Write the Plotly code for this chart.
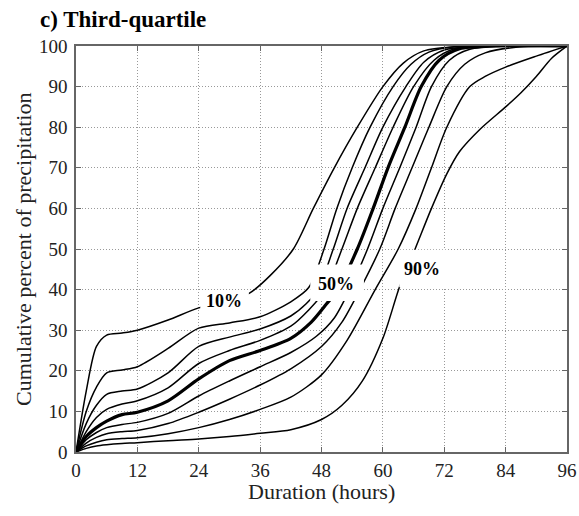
import plotly.graph_objects as go

# points: duration (hours) and cumulative percent
h10 = [0, 2, 4, 6, 9, 12, 18, 24, 30, 34, 38, 42.5, 46.4, 50.5, 55, 60, 64, 68, 74, 84, 96]
p10 = [0, 15, 26, 28.8, 29.3, 30, 32.5, 35.5, 37.2, 39.2, 43.5, 50, 60, 70, 80, 90, 95.8, 98.8, 99.8, 100, 100]

h20 = [0, 2, 4, 6, 9, 12, 18, 24, 30, 36, 42, 45.5, 48.5, 51, 54, 57.5, 62, 65.5, 69, 74, 84, 96]
p20 = [0, 10, 16, 19.5, 20.2, 21, 25.5, 30.5, 31.8, 33.3, 37, 40.5, 50, 60, 70, 80, 90, 95.5, 98.5, 99.8, 100, 100]

h30 = [0, 2, 4, 6, 9, 12, 18, 24, 30, 36, 42, 45, 47.3, 50.3, 53, 56.5, 60, 64.5, 68, 72, 78, 96]
p30 = [0, 7, 11.5, 14.2, 15, 15.5, 19.5, 26, 28.3, 30.3, 33.5, 36.5, 40, 50, 60, 70, 80, 90, 96, 99, 99.9, 100]

h40 = [0, 2, 4, 6, 9, 12, 18, 24, 30, 36, 42, 45.5, 48.8, 52, 55, 58.5, 62, 66, 70, 74, 80, 96]
p40 = [0, 5, 8.5, 10.5, 11.8, 12.6, 15.8, 21.8, 25, 27.5, 31, 35, 40, 50, 60, 70, 80, 90, 96.5, 99.3, 100, 100]

h50 = [0, 2, 4, 6, 9, 12, 18, 24, 30, 36, 42, 46, 49, 51.2, 55, 58.1, 61, 64.3, 67.5, 71, 75, 82, 96]
p50 = [0, 3.8, 6, 7.6, 9.2, 9.8, 12.6, 18, 22.5, 25, 28, 32, 36.5, 40, 50, 60, 70, 80, 90, 96.5, 99.3, 100, 100]

h60 = [0, 2, 4, 6, 9, 12, 18, 24, 30, 36, 42, 47, 50.5, 53.5, 57, 60, 63.3, 66.5, 69.5, 73, 77, 84, 96]
p60 = [0, 3, 4.8, 6, 6.8, 7.3, 9.5, 13.8, 17.5, 21, 24.5, 28.5, 33, 40, 50, 60, 70, 80, 90, 96.5, 99.2, 100, 100]

h70 = [0, 2, 4, 6, 9, 12, 18, 24, 30, 36, 42, 48, 52, 55.5, 59.4, 62.4, 65.7, 69, 72.5, 76, 80, 86, 96]
p70 = [0, 2.2, 3.6, 4.5, 5, 5.3, 7, 9.8, 13, 16.5, 20.5, 26, 32, 40, 50, 60, 70, 80, 90, 95.5, 98.3, 99.7, 100]

h80 = [0, 2, 4, 6, 9, 12, 18, 24, 30, 36, 42, 48, 53, 58.5, 63, 66.5, 69.5, 72.5, 77, 80, 84, 90, 96]
p80 = [0, 1.5, 2.4, 3, 3.3, 3.5, 4.5, 6, 8, 10.5, 13.5, 19, 27.5, 40, 50, 60, 70, 80, 90, 92.5, 94.8, 97.5, 100]

h90 = [0, 2, 4, 6, 9, 12, 18, 24, 30, 36, 42, 48, 52, 56, 60, 63.3, 66.3, 69.5, 72.5, 75, 79, 84, 87, 90, 93, 96]
p90 = [0, 0.9, 1.5, 1.8, 2.1, 2.3, 2.8, 3.2, 3.8, 4.6, 5.5, 8, 11.5, 17.5, 28, 40.8, 50, 60, 68.5, 74, 79.5, 85, 88.5, 92.5, 97, 100]

curves = [(h10, p10), (h20, p20), (h30, p30), (h40, p40), (h50, p50),
          (h60, p60), (h70, p70), (h80, p80), (h90, p90)]
names = ['10%', '20%', '30%', '40%', '50%', '60%', '70%', '80%', '90%']

# labelled curves: text, label centre, white box behind the label
label_text = ['10%', '50%', '90%']
label_x = [29.0, 50.9, 67.6]
label_y = [37.3, 41.5, 45.0]
box_x0 = [24.3, 45.8, 63.2]
box_x1 = [33.8, 56.3, 72.5]
box_y0 = [34.3, 37.2, 40.6]
box_y1 = [39.8, 46.2, 49.8]

serif = 'Liberation Serif, Times New Roman, serif'

fig = go.Figure()
for name, (hx, py) in zip(names, curves):
    fig.add_trace(go.Scatter(x=hx, y=py, mode='lines', name=name,
                             line=dict(color='black', width=3.2 if name == '50%' else 1.5,
                                       shape='spline', smoothing=0.8)))

for i in range(len(label_text)):
    fig.add_shape(type='rect', x0=box_x0[i], x1=box_x1[i], y0=box_y0[i], y1=box_y1[i],
                  fillcolor='white', line_width=0, layer='above')
    fig.add_annotation(x=label_x[i], y=label_y[i], text='<b>' + label_text[i] + '</b>',
                       showarrow=False, font=dict(family=serif, size=18, color='black'))

# axis titles placed by hand
fig.add_annotation(text='Duration (hours)', xref='paper', yref='paper', x=0.5, y=-0.098,
                   showarrow=False, xanchor='center', yanchor='middle',
                   font=dict(family=serif, size=22, color='#222'))
fig.add_annotation(text='Cumulative percent of precipitation', xref='paper', yref='paper',
                   x=-0.108, y=0.5, textangle=-90, showarrow=False,
                   xanchor='center', yanchor='middle',
                   font=dict(family=serif, size=22, color='#222'))

fig.update_layout(
    width=579, height=516,
    margin=dict(l=76, r=12, t=46, b=64),
    plot_bgcolor='white', paper_bgcolor='white',
    showlegend=False,
    font=dict(family=serif, size=19, color='#222'),
    title=dict(text='<b>c) Third-quartile</b>', x=40 / 579, xanchor='left', xref='container',
               y=1 - 11 / 516, yanchor='top', yref='container',
               font=dict(family=serif, size=23, color='black')),
)
axis_style = dict(showline=True, mirror='ticks', linecolor='#666', linewidth=1.5,
                  ticks='inside', ticklen=5, tickcolor='#666',
                  showgrid=True, gridcolor='#999', griddash='1px,2px', gridwidth=1,
                  zeroline=False, automargin=False)
fig.update_xaxes(range=[0, 96], tickvals=list(range(0, 97, 12)), **axis_style)
fig.update_yaxes(range=[0, 100], tickvals=list(range(0, 101, 10)), ticklabelstandoff=3, **axis_style)

# drop the default page margin so the figure sits at the window's top-left corner
fig.write_html("out.html", config={'displayModeBar': False},
               post_script="document.body.style.margin = '0';")
